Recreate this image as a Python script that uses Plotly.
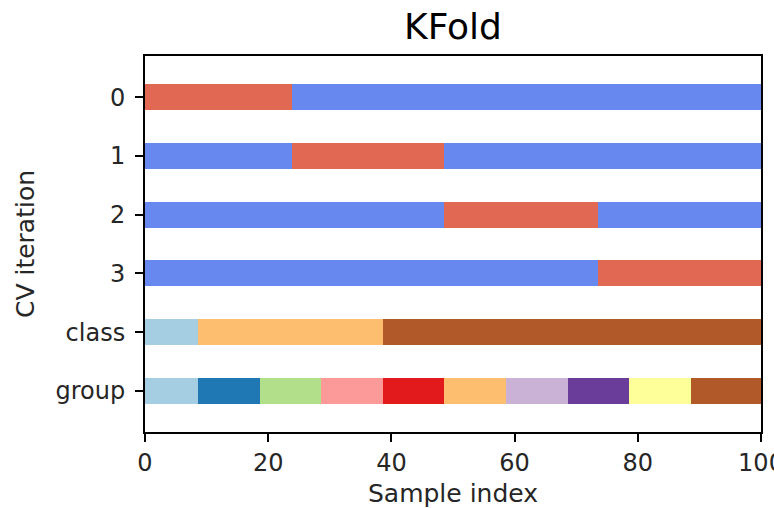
import plotly.graph_objects as go

# ---- data ----
row_labels = ["0", "1", "2", "3", "class", "group"]
row_pos = [0.5, 1.5, 2.5, 3.5, 4.5, 5.5]

# CV folds: segment edges along sample index, and which segment is the test set
fold_edges = [0, 23.8, 48.6, 73.6, 100]
n_splits = 4

# class segments
class_edges = [0, 8.6, 38.6, 100]
class_ids = [0, 1, 2]

# group segments
group_edges = [0, 8.6, 18.6, 28.6, 38.6, 48.6, 58.6, 68.6, 78.6, 88.6, 100]
group_ids = [0, 1, 2, 3, 4, 5, 6, 7, 8, 9]

x_ticks = [0, 20, 40, 60, 80, 100]

# ---- styles ----
TRAIN = "#6788ee"
TEST = "#e16852"
class_colors = ["#a6cee3", "#fdbf6f", "#b15928"]
group_colors = ["#a6cee3", "#1f78b4", "#b2df8a", "#fb9a99", "#e31a1c",
                "#fdbf6f", "#cab2d6", "#6a3d9a", "#ffff99", "#b15928"]
BAR_W = 0.44

fig = go.Figure()

def add_row(ypos, edges, colors):
    starts = edges[:-1]
    lens = [b - a for a, b in zip(edges[:-1], edges[1:])]
    fig.add_trace(go.Bar(
        orientation="h", y=[ypos] * len(lens), x=lens, base=starts,
        width=BAR_W, marker=dict(color=colors, line=dict(width=0)),
        showlegend=False, hoverinfo="skip"))

for k in range(n_splits):
    cols = [TEST if i == k else TRAIN for i in range(n_splits)]
    add_row(row_pos[k], fold_edges, cols)

add_row(row_pos[4], class_edges, [class_colors[c] for c in class_ids])
add_row(row_pos[5], group_edges, [group_colors[g] for g in group_ids])

FONT = "DejaVu Sans"
fig.update_layout(
    width=774, height=508,
    template="none",
    paper_bgcolor="white", plot_bgcolor="white",
    barmode="overlay",
    bargap=0,
    margin=dict(l=144.5, r=13.3, t=56, b=76.3, autoexpand=False),
    font=dict(family=FONT, color="#262626", size=24),
    title=dict(text="KFold", font=dict(family=FONT, size=36, color="black"),
               x=0.5, xref="paper", xanchor="center",
               y=1 - 26 / 508, yref="container", yanchor="middle"),
    xaxis=dict(range=[0, 100], tickvals=x_ticks, ticktext=[str(v) for v in x_ticks],
               showgrid=False, zeroline=False, showline=True, mirror=True,
               linecolor="black", linewidth=2, ticks="outside", ticklen=8,
               tickwidth=2, tickcolor="black", automargin=False,
               ticklabeloverflow="allow",
               tickfont=dict(size=24, color="#262626"),
               title=dict(text="Sample index", font=dict(size=25, color="#262626"),
                          standoff=10)),
    yaxis=dict(range=[6.2, -0.2], tickvals=row_pos, ticktext=row_labels,
               showgrid=False, zeroline=False, showline=True, mirror=True,
               linecolor="black", linewidth=2, ticks="outside", ticklen=8,
               tickwidth=2, tickcolor="black", automargin=False,
               ticklabelstandoff=5,
               tickfont=dict(size=24, color="#262626"),
               title=dict(text="CV iteration", font=dict(size=25, color="#262626"),
                          standoff=14)),
)

fig.write_html("out.html", config={"displayModeBar": False},
               post_script="document.body.style.margin='0';document.body.style.overflow='hidden';")
